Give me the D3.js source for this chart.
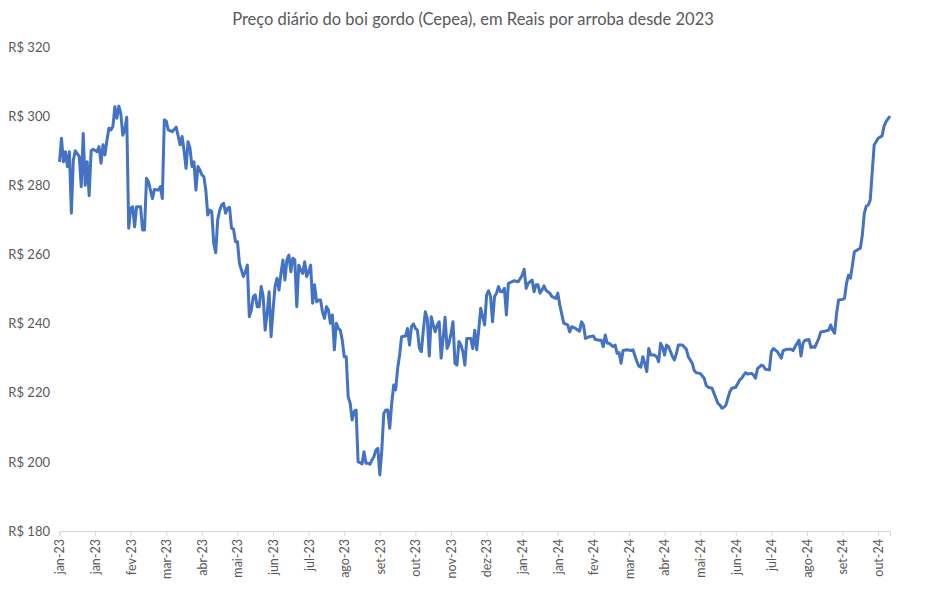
<!DOCTYPE html>
<html>
<head>
<meta charset="utf-8">
<script src="https://cdn.jsdelivr.net/npm/d3@7"></script>
<style>
  html, body { margin: 0; padding: 0; background: #fff; }
  svg text { font-family: Lato, "Open Sans", "Liberation Sans", sans-serif; }
</style>
</head>
<body>
<svg id="chart" width="948" height="589"></svg>
<script>
const title = "Preço diário do boi gordo (Cepea), em Reais por arroba desde 2023";

// trading-session index (x) and price in R$ per arroba (y)
const sessions = [0,1,2,3,4,5,6,7,8,10,11,12,13,14,15,16,17,19,20,21,22,23,24,25,26,27,28,29,30,31,32,33,34,35,36,37,38,39,41,42,43,44,45,46,47,48,50,51,52,53,54,55,57,59,60,61,62,63,64,65,66,67,68,69,70,71,72,73,74,75,76,77,78,79,80,81,82,83,84,85,86,87,88,89,90,91,93,94,95,96,97,98,99,100,101,102,103,104,105,106,107,108,109,110,111,112,113,114,115,116,117,118,119,120,121,122,123,124,125,126,127,128,129,130,131,132,133,134,135,136,137,138,139,140,141,142,143,144,145,146,147,148,149,150,151,152,153,154,155,156,157,158,159,160,161,162,163,164,165,166,167,168,169,170,171,172,173,175,176,177,178,179,180,181,182,183,184,185,186,187,188,189,190,191,192,193,194,195,196,197,198,199,200,201,202,203,204,205,206,208,209,210,211,212,213,214,215,216,217,218,219,220,221,222,223,224,225,226,227,230,232,234,235,236,237,239,240,241,242,243,244,245,246,247,248,249,251,252,253,255,257,258,259,261,263,264,265,266,268,270,271,273,274,275,276,277,278,280,281,282,283,284,285,287,289,290,292,293,294,295,296,297,298,299,301,302,303,304,305,306,307,308,309,310,311,312,313,315,317,318,320,321,322,324,326,327,328,330,331,333,334,335,336,337,339,340,342,344,345,346,347,348,350,351,352,353,355,356,357,359,360,361,363,365,366,368,370,371,372,373,374,375,376,377,379,380,381,382,384,385,387,389,390,391,392,393,394,396,397,398,399,400,401,402,404,405,406,407,408,409,410,412,413,414,416,417,418,420];
const prices = [286.8,293.6,286.8,289.7,285.4,289.7,271.9,287.3,290,288.3,279.6,295,280,286.8,277,290,290.4,289.7,291.2,286.4,291.7,288.8,293.1,296.5,296,297,302.7,299.4,302.9,300.8,294.5,296,299.7,267.6,273.3,273.8,268,273.8,273.8,267.1,267.1,282,281,278.6,276.2,278.8,278.6,279.6,276.2,298.9,298.6,296,295.5,296.8,294.3,291.7,294.1,290,284.9,292.6,290.7,285.4,286.8,278.6,285.4,284.4,283,282.5,278.6,271.4,272.8,272.4,263.2,260.5,270,272.8,274.3,274.8,271.9,273.3,273.6,267.6,267.3,263.7,263.7,257.4,253.6,255,256.9,242,243.9,247.8,248.3,244.9,244.9,250.7,247.8,238.1,243,249.2,236.2,243.9,250.7,253.1,249.7,254.5,258.4,252.6,258.4,259.8,255,258.9,258.4,244.9,256.9,255.5,254.5,257.9,253.6,255,256.9,245.9,251.2,246.3,246.8,246.8,243.4,241.5,244.9,243.9,240.1,242.5,232.4,240.1,238.6,238.1,235.2,230.4,230.4,218.8,216.9,212.1,214.5,215,200,199.8,199.4,202.9,199.6,199.6,199.3,200.5,201.5,203.4,203.9,196.2,203.4,214,215,215,209.7,216.9,222.2,220.8,227,230.9,236.2,236.4,238.6,233.8,239.1,239.9,238.6,238.1,232.8,231.9,238.1,243.4,241.5,230.6,242,239.6,237.6,239.6,240.5,230,235.7,241.8,232.8,234.3,237.2,240.5,228.5,228,234.8,233.8,231.9,228,235.7,235.7,232.8,238.1,232.4,238.1,244.4,242,239.6,248.3,249.5,247.8,240.5,247.8,248.8,250.7,249.2,249.2,250.2,242.5,251.6,252.4,252.1,254,255.7,250.2,251.6,252.6,249.2,251.2,251.2,248.8,249.7,250.9,249.7,249.2,248.8,247.8,247.3,248.8,245.4,240.1,239.6,237.6,239.1,238.6,237.8,240.5,239.6,235.7,236.2,236.4,235.4,235.2,235.2,233.3,236.7,234.3,234.3,233.3,233.8,231.4,231.6,228.5,232.2,232.4,232.2,232.4,229,227.7,227.4,230.4,228.5,226.1,232.8,230.9,230.9,230.4,229,234.3,233.1,230.9,233.8,233.3,231.9,230.4,229.5,231.4,233.8,233.8,232.6,230.4,228.5,226.4,225.8,225.6,224.2,222.2,221.6,221.3,219.8,216.9,216.4,215.5,215.8,216.4,220.3,221.3,221.6,223.7,224.2,225.1,225.8,225.4,225.6,225.1,224.2,227,228,227.7,226.8,226.6,231.9,232.8,231.9,230,232.2,232.6,232.6,232.2,233.3,234.3,235.2,230.6,234.3,235.2,235.4,233.1,233.3,233.1,235.7,237.6,237.8,238.1,239.6,238.1,237.2,243,246.8,247,247.3,251.6,254,253.1,256.9,260.8,261.5,261.8,265.6,271.9,274,274.3,275.7,291.7,292.6,293.6,294.3,297.1,298.4,300];

const tickLabels = ["jan-23","jan-23","fev-23","mar-23","abr-23","mai-23","jun-23","jul-23","ago-23","set-23","out-23","nov-23","dez-23","jan-24","jan-24","fev-24","mar-24","abr-24","mai-24","jun-24","jul-24","ago-24","set-24","out-24"];
const tickEvery = 18;          // sessions between category labels
const lastSession = 420;
const yTicks = [180,200,220,240,260,280,300,320];

const svg = d3.select("#chart");
const x = d3.scaleLinear().domain([0, lastSession]).range([59.5, 890]);
const y = d3.scaleLinear().domain([180, 320]).range([531, 47]);

svg.append("text")
  .attr("x", 473).attr("y", 25)
  .attr("text-anchor", "middle")
  .attr("font-size", 16.5)
  .attr("fill", "#595959")
  .text(title);

// y axis labels (no axis line, no gridlines)
const yAxis = d3.axisLeft(y).tickValues(yTicks).tickSize(0).tickPadding(0)
  .tickFormat(d => "R$ " + d);
const gy = svg.append("g").attr("transform", "translate(50,0)").call(yAxis);
gy.select(".domain").remove();
gy.selectAll("text").attr("font-size", 13).attr("fill", "#595959")
  .attr("font-family", "Lato, 'Open Sans', sans-serif");

// x axis
const tickSessions = tickLabels.map((_, i) => i * tickEvery);
const xAxis = d3.axisBottom(x).tickValues(tickSessions).tickSize(5).tickPadding(3)
  .tickFormat((d, i) => tickLabels[i]);
const gx = svg.append("g").attr("transform", "translate(0,531)").call(xAxis);
gx.select(".domain").attr("stroke", "#d9d9d9").attr("stroke-width", 1);
gx.selectAll(".tick line").attr("stroke", "#d9d9d9");
gx.selectAll("text")
  .attr("font-size", 12.5).attr("fill", "#595959")
  .attr("font-family", "Lato, 'Open Sans', sans-serif")
  .attr("text-anchor", "end")
  .attr("transform", "rotate(-90)")
  .attr("x", -8).attr("y", 0).attr("dy", "0.35em");

// line
const data = sessions.map((s, i) => ({ s, v: prices[i] }));
const line = d3.line().x(d => x(d.s)).y(d => y(d.v));
svg.append("path")
  .datum(data)
  .attr("fill", "none")
  .attr("stroke", "#4472C4")
  .attr("stroke-width", 3)
  .attr("stroke-linejoin", "round")
  .attr("d", line);
</script>
</body>
</html>
